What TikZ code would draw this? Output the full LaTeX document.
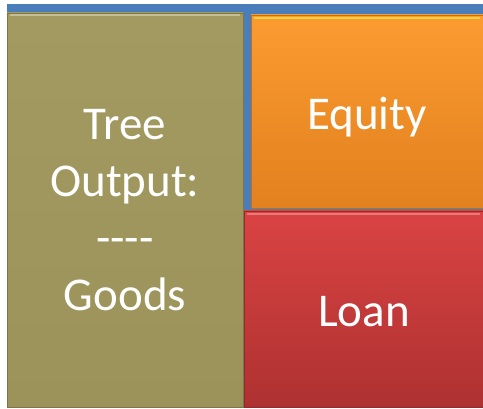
\documentclass[tikz,border=0pt]{standalone}
\usepackage{fontspec}
\setmainfont{Carlito}
\definecolor{frameblue}{HTML}{4A7EBB}
\definecolor{olivetop}{HTML}{A39A62}
\definecolor{olivebot}{HTML}{9C935B}
\definecolor{orangetop}{HTML}{FB9B30}
\definecolor{orangebot}{HTML}{E2811E}
\definecolor{redtop}{HTML}{DA4343}
\definecolor{redbot}{HTML}{AE3131}
\begin{document}
\begin{tikzpicture}[x=1pt,y=1pt,
  blockbox/.style={rectangle, inner sep=0pt, outer sep=0pt, align=center,
    text=white, font=\fontsize{47}{57}\selectfont, line width=0.8pt},
  highlight/.style={line width=2.5pt, opacity=0.35}]
\useasboundingbox (0,0) rectangle (483,409);
\fill[white] (0,0) rectangle (483,409);
% blue frame
\fill[frameblue] (7,196) rectangle (483,405);
% boxes
\node[blockbox, minimum width=236, minimum height=394, top color=olivetop, bottom color=olivebot, draw=olivebot!80!black]
  (goods) at (125,199) {Tree\\Output:\\{-}{-}{-}{-}\\Goods};
\node[blockbox, minimum width=232, minimum height=193, top color=orangetop, bottom color=orangebot, draw=orangebot!85!black, text depth=0pt]
  (equity) at (367,297.5) {};
\node[text=white, font=\fontsize{47}{57}\selectfont, anchor=base] (equitytext) at (367,279) {Equity};
\node[blockbox, minimum width=239, minimum height=196, top color=redtop, bottom color=redbot, draw=redbot!85!black]
  (loan) at (363.5,100) {};
\node[text=white, font=\fontsize{47}{57}\selectfont, anchor=base] (loantext) at (364,82) {Loan};
% bevel highlights
\draw[highlight, draw=white] ([xshift=3,yshift=-2]goods.north west) -- ([xshift=-3,yshift=-2]goods.north east);
\draw[highlight, draw=yellow!70!white, opacity=0.6] ([xshift=3,yshift=-3]equity.north west) -- ([xshift=-3,yshift=-3]equity.north east);
\draw[highlight, draw=white, opacity=0.3] ([xshift=3,yshift=-3]loan.north west) -- ([xshift=-3,yshift=-3]loan.north east);
\end{tikzpicture}
\end{document}
